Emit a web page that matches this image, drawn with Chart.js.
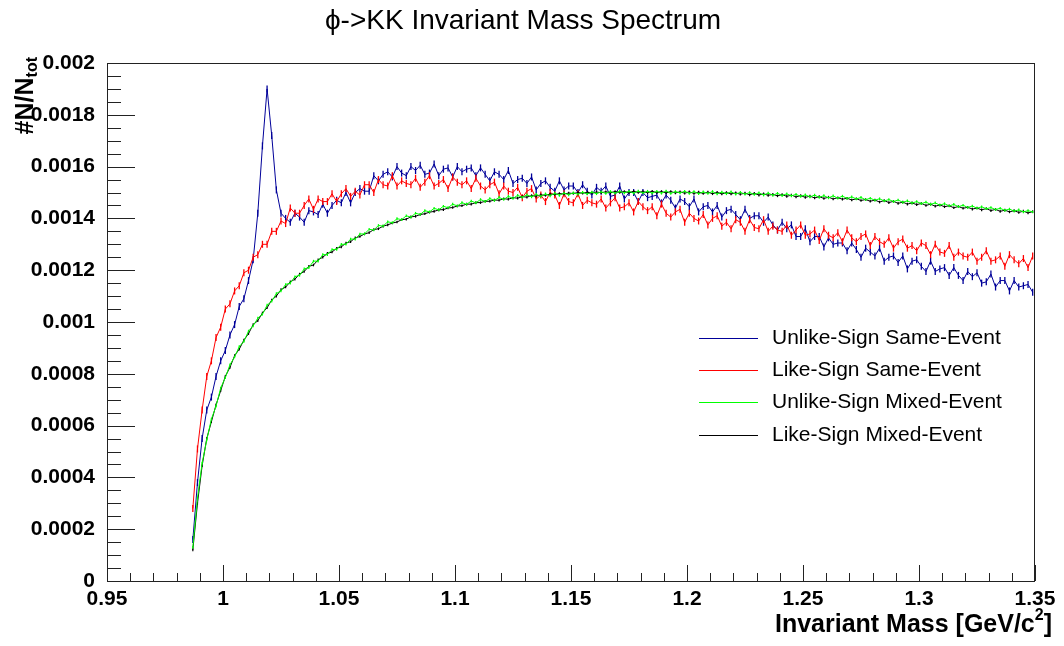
<!DOCTYPE html>
<html>
<head>
<meta charset="utf-8">
<script src="https://cdn.jsdelivr.net/npm/chart.js@4.4.1/dist/chart.umd.min.js"></script>
<style>
  html, body { margin: 0; padding: 0; background: #fff; }
  #wrap { width: 1064px; height: 646px; }
</style>
</head>
<body>
<div id="wrap"><canvas id="chart" width="1064" height="646"></canvas></div>
<script>
// histogram binning: first bin centre and width (GeV/c^2)
const binStart = 0.987
const binWidth = 0.002

const xTicks = [0.95, 1.0, 1.05, 1.1, 1.15, 1.2, 1.25, 1.3, 1.35]
const yTicks = [0, 0.0002, 0.0004, 0.0006, 0.0008, 0.001, 0.0012, 0.0014, 0.0016, 0.0018, 0.002]

const seriesNames = ['Unlike-Sign Same-Event', 'Like-Sign Same-Event', 'Unlike-Sign Mixed-Event', 'Like-Sign Mixed-Event']

// #N/N_tot per bin
const unlikeSame = [
  0.00016, 0.00038, 0.00055, 0.00066, 0.00071, 0.00079, 0.00085, 0.00089, 0.00095, 0.00099,
  0.00106, 0.00109, 0.00116, 0.00124, 0.00142, 0.00168, 0.0019, 0.00172, 0.00151, 0.00142,
  0.0014, 0.001385, 0.00142, 0.001405, 0.001385, 0.00143, 0.001425, 0.001415, 0.001455, 0.00142,
  0.00145, 0.00147, 0.00146, 0.0015, 0.00146, 0.0015, 0.001515, 0.001505, 0.001505, 0.001565,
  0.001545, 0.00157, 0.00158, 0.00156, 0.0016, 0.001575, 0.001565, 0.0016, 0.001585, 0.001605,
  0.00157, 0.001575, 0.00161, 0.001565, 0.00159, 0.001595, 0.00156, 0.0016, 0.00158, 0.00159,
  0.001595, 0.001565, 0.001595, 0.00157, 0.001545, 0.00158, 0.00157, 0.00155, 0.001585, 0.001535,
  0.00155, 0.001555, 0.001535, 0.00156, 0.00151, 0.001535, 0.001545, 0.00152, 0.001505, 0.001545,
  0.00151, 0.001525, 0.001525, 0.0015, 0.00153, 0.001505, 0.00149, 0.00152, 0.001505, 0.001525,
  0.001485, 0.00149, 0.001525, 0.001475, 0.0015, 0.0015, 0.001465, 0.0015, 0.00148, 0.001485,
  0.00149, 0.00146, 0.00149, 0.00147, 0.00144, 0.001475, 0.001465, 0.001445, 0.001475, 0.001425,
  0.001445, 0.00145, 0.001425, 0.00145, 0.001405, 0.00143, 0.001435, 0.001415, 0.001395, 0.001435,
  0.0014, 0.00141, 0.00141, 0.001385, 0.001405, 0.001375, 0.001355, 0.001385, 0.00136, 0.001375,
  0.00133, 0.00133, 0.00136, 0.00131, 0.00133, 0.00133, 0.00129, 0.001325, 0.0013, 0.001305,
  0.001305, 0.001275, 0.001305, 0.00128, 0.00125, 0.001285, 0.00127, 0.001255, 0.001285, 0.001235,
  0.00125, 0.001255, 0.00123, 0.001255, 0.001205, 0.001235, 0.00124, 0.001215, 0.001195, 0.001235,
  0.001195, 0.001205, 0.00121, 0.00118, 0.00121, 0.00118, 0.00116, 0.001195, 0.001175, 0.00119,
  0.00115, 0.001155, 0.001185, 0.001135, 0.00116, 0.00116, 0.00112, 0.00116, 0.001135, 0.00114,
  0.001145, 0.001115
]

const likeSame = [
  0.00028, 0.00051, 0.00066, 0.00079, 0.00085, 0.00094, 0.00098, 0.00105, 0.00107, 0.00112,
  0.00114, 0.00119, 0.0012, 0.00125, 0.00126, 0.0013, 0.0013, 0.00135, 0.00135, 0.00139,
  0.00138, 0.00144, 0.00142, 0.00142, 0.00145, 0.001475, 0.001435, 0.001475, 0.001465, 0.001465,
  0.001495, 0.001465, 0.001495, 0.001515, 0.001485, 0.001505, 0.00149, 0.00153, 0.00153, 0.0015,
  0.00155, 0.00153, 0.001525, 0.001565, 0.001525, 0.001545, 0.001535, 0.00153, 0.001555, 0.00152,
  0.00154, 0.001565, 0.001525, 0.001535, 0.00155, 0.001515, 0.00156, 0.00154, 0.00153, 0.001545,
  0.001515, 0.001555, 0.001525, 0.00151, 0.00153, 0.00154, 0.001495, 0.001525, 0.001505, 0.0015,
  0.00152, 0.00148, 0.001505, 0.001515, 0.001475, 0.00149, 0.001465, 0.0015, 0.00149, 0.00145,
  0.001495, 0.001465, 0.00146, 0.001495, 0.00145, 0.00147, 0.00146, 0.001455, 0.001475, 0.00144,
  0.00146, 0.00148, 0.00144, 0.001445, 0.00146, 0.001425, 0.001465, 0.001445, 0.00143, 0.001445,
  0.00141, 0.001455, 0.00142, 0.001405, 0.001425, 0.001435, 0.001385, 0.00142, 0.0014, 0.00139,
  0.001415, 0.001375, 0.0014, 0.00141, 0.00137, 0.001385, 0.00136, 0.001395, 0.001385, 0.00135,
  0.001395, 0.001365, 0.00136, 0.001395, 0.00135, 0.00137, 0.001355, 0.00135, 0.001375, 0.001335,
  0.001355, 0.001375, 0.001335, 0.00134, 0.001355, 0.001315, 0.00136, 0.001335, 0.001325, 0.001345,
  0.00131, 0.001355, 0.001325, 0.00131, 0.00133, 0.00134, 0.001295, 0.00133, 0.00131, 0.0013,
  0.001325, 0.001285, 0.00131, 0.00132, 0.001285, 0.001295, 0.001275, 0.001305, 0.001295, 0.00126,
  0.0013, 0.00127, 0.001265, 0.001295, 0.00125, 0.00127, 0.001255, 0.00125, 0.00127, 0.001235,
  0.00125, 0.001275, 0.001235, 0.00124, 0.001255, 0.001215, 0.00126, 0.00124, 0.001225, 0.001245,
  0.00121, 0.001255
]

const unlikeMixed = [
  0.00013, 0.00032, 0.000455, 0.000545, 0.000625, 0.000675, 0.000745, 0.000785, 0.000835, 0.000865,
  0.000905, 0.000925, 0.000965, 0.000985, 0.001015, 0.00103, 0.001065, 0.00108, 0.00111, 0.00112,
  0.001145, 0.00115, 0.001175, 0.00118, 0.001205, 0.00121, 0.001235, 0.001235, 0.00126, 0.00126,
  0.00128, 0.00128, 0.0013, 0.0013, 0.00132, 0.00132, 0.00134, 0.00134, 0.001358, 0.001355,
  0.001373, 0.00137, 0.001387, 0.001383, 0.001399, 0.001395, 0.00141, 0.001405, 0.00142, 0.001415,
  0.00143, 0.001425, 0.001439, 0.001433, 0.001447, 0.001441, 0.001455, 0.001448, 0.001461, 0.001454,
  0.001467, 0.00146, 0.001473, 0.001465, 0.001477, 0.001469, 0.001481, 0.001473, 0.001485, 0.001477,
  0.001489, 0.001481, 0.001491, 0.001483, 0.001493, 0.001485, 0.001495, 0.001487, 0.001497, 0.001489,
  0.001498, 0.001491, 0.001499, 0.001493, 0.001501, 0.001494, 0.001502, 0.001495, 0.001503, 0.001496,
  0.001504, 0.001497, 0.001505, 0.001498, 0.001505, 0.001497, 0.001506, 0.001498, 0.001505, 0.001497,
  0.001505, 0.001497, 0.001506, 0.001496, 0.001504, 0.001498, 0.001505, 0.001496, 0.001504, 0.001495,
  0.001503, 0.001496, 0.001504, 0.001494, 0.001502, 0.001495, 0.001503, 0.001493, 0.001501, 0.001493,
  0.0015, 0.001492, 0.001499, 0.00149, 0.001498, 0.001489, 0.001497, 0.001488, 0.001495, 0.001487,
  0.001493, 0.001485, 0.001491, 0.001483, 0.00149, 0.001481, 0.001488, 0.001479, 0.001487, 0.001478,
  0.001486, 0.001477, 0.001483, 0.001475, 0.001481, 0.001472, 0.001478, 0.00147, 0.001476, 0.001467,
  0.001473, 0.001465, 0.001471, 0.001462, 0.001468, 0.001459, 0.001465, 0.001457, 0.001463, 0.001454,
  0.00146, 0.001451, 0.001457, 0.001448, 0.001454, 0.001445, 0.001451, 0.001442, 0.001448, 0.001439,
  0.001445, 0.001437, 0.001442, 0.001434, 0.001439, 0.001431, 0.001436, 0.001428, 0.001433, 0.001425,
  0.00143, 0.001425
]

const likeMixed = [
  0.00012, 0.0003, 0.000445, 0.00055, 0.000615, 0.00068, 0.000735, 0.00079, 0.000825, 0.00087,
  0.000895, 0.00093, 0.000955, 0.00099, 0.001005, 0.001035, 0.001055, 0.001085, 0.0011, 0.001125,
  0.001135, 0.001155, 0.001165, 0.001185, 0.001195, 0.001215, 0.00122, 0.00124, 0.00125, 0.001265,
  0.00127, 0.001285, 0.00129, 0.001305, 0.00131, 0.001325, 0.00133, 0.00134, 0.001345, 0.001357,
  0.00136, 0.00137, 0.001375, 0.001382, 0.001386, 0.001395, 0.001397, 0.001406, 0.001408, 0.001415,
  0.001418, 0.001424, 0.001427, 0.001433, 0.001434, 0.00144, 0.001442, 0.001448, 0.001449, 0.001455,
  0.001455, 0.001461, 0.001461, 0.001466, 0.001466, 0.001471, 0.00147, 0.001476, 0.001474, 0.00148,
  0.001478, 0.001484, 0.001482, 0.001488, 0.001486, 0.001491, 0.001489, 0.001494, 0.001492, 0.001496,
  0.001494, 0.001498, 0.001496, 0.0015, 0.001497, 0.001501, 0.001498, 0.001502, 0.001499, 0.001503,
  0.001499, 0.001504, 0.0015, 0.001504, 0.001499, 0.001505, 0.0015, 0.001504, 0.001499, 0.001505,
  0.001499, 0.001504, 0.001498, 0.001504, 0.001498, 0.001503, 0.001497, 0.001503, 0.001496, 0.001502,
  0.001496, 0.001502, 0.001495, 0.001501, 0.001494, 0.0015, 0.001494, 0.001499, 0.001493, 0.001498,
  0.001491, 0.001497, 0.00149, 0.001495, 0.001489, 0.001493, 0.001487, 0.001492, 0.001485, 0.00149,
  0.001483, 0.001488, 0.001481, 0.001486, 0.001479, 0.001484, 0.001477, 0.001482, 0.001475, 0.00148,
  0.001474, 0.001478, 0.001471, 0.001476, 0.001469, 0.001473, 0.001466, 0.001471, 0.001463, 0.001469,
  0.001461, 0.001466, 0.001458, 0.001463, 0.001455, 0.00146, 0.001453, 0.001458, 0.00145, 0.001455,
  0.001447, 0.001452, 0.001445, 0.001449, 0.001441, 0.001446, 0.001439, 0.001443, 0.001436, 0.00144,
  0.001433, 0.001438, 0.00143, 0.001435, 0.001427, 0.001432, 0.001425, 0.00143, 0.001423, 0.001428,
  0.001421, 0.001426
]

const colors = ['#000099', '#ff0000', '#00ff00', '#000000']

function toPoints(values) {
  return values.map((v, i) => ({ x: +(binStart + i * binWidth).toFixed(3), y: v }))
}

function histo(label, values, color, order, bar, barWidth) {
  return {
    label,
    data: toPoints(values),
    borderColor: color,
    backgroundColor: color,
    borderWidth: 1,
    pointStyle: 'line',
    rotation: 90,
    pointRadius: bar,
    pointBorderWidth: barWidth,
    pointBorderColor: color,
    pointHoverRadius: 0,
    tension: 0,
    fill: false,
    order,
  }
}

const font = '"Liberation Sans", Arial, Helvetica, sans-serif'

const decorations = {
  id: 'decorations',
  afterDraw(chart) {
    const { ctx, chartArea: a, scales } = chart
    const x = scales.x
    const y = scales.y
    ctx.save()

    // frame
    ctx.strokeStyle = '#222'
    ctx.lineWidth = 1
    ctx.strokeRect(Math.round(a.left) + 0.5, Math.round(a.top) + 0.5, Math.round(a.right - a.left) - 1, Math.round(a.bottom - a.top))

    // inward ticks, ROOT style
    ctx.beginPath()
    for (let i = 0; i <= 40; i++) {
      const py = Math.round(y.getPixelForValue(i * 0.00005)) + 0.5
      const len = i % 4 === 0 ? 28 : 14
      ctx.moveTo(a.left, py)
      ctx.lineTo(a.left + len, py)
    }
    for (let i = 0; i <= 40; i++) {
      const px = Math.round(x.getPixelForValue(0.95 + i * 0.01)) + 0.5
      const len = i % 5 === 0 ? 16 : 8
      ctx.moveTo(px, a.bottom)
      ctx.lineTo(px, a.bottom - len)
    }
    ctx.stroke()

    ctx.fillStyle = '#000'

    // title
    ctx.font = '28px ' + font
    ctx.textAlign = 'center'
    ctx.textBaseline = 'middle'
    ctx.fillText('\u03D5->KK Invariant Mass Spectrum', 523, 21)

    // x axis title, right aligned with superscript
    ctx.textBaseline = 'alphabetic'
    ctx.textAlign = 'left'
    const big = 'bold 25px ' + font
    const small = 'bold 16px ' + font
    ctx.font = big
    const w1 = ctx.measureText('Invariant Mass [GeV/c').width
    const w3 = ctx.measureText(']').width
    ctx.font = small
    const w2 = ctx.measureText('2').width
    const x0 = 1052 - (w1 + w2 + w3)
    ctx.font = big
    ctx.fillText('Invariant Mass [GeV/c', x0, 632)
    ctx.font = small
    ctx.fillText('2', x0 + w1, 620)
    ctx.font = big
    ctx.fillText(']', x0 + w1 + w2, 632)

    // y axis title with subscript
    ctx.save()
    ctx.translate(33, 57)
    ctx.rotate(-Math.PI / 2)
    ctx.font = big
    const m1 = ctx.measureText('#N/N').width
    ctx.font = small
    const m2 = ctx.measureText('tot').width
    ctx.font = big
    ctx.fillText('#N/N', -(m1 + m2), 0)
    ctx.font = small
    ctx.fillText('tot', -m2, 4)
    ctx.restore()

    // legend
    const rows = [338, 370, 402, 435]
    ctx.font = '21px ' + font
    ctx.textBaseline = 'middle'
    seriesNames.forEach((name, i) => {
      ctx.strokeStyle = colors[i]
      ctx.beginPath()
      ctx.moveTo(699, rows[i] + 0.5)
      ctx.lineTo(758, rows[i] + 0.5)
      ctx.stroke()
      ctx.fillStyle = '#000'
      ctx.fillText(name, 772, rows[i])
    })

    ctx.restore()
  },
}

const ctx = document.getElementById('chart').getContext('2d')
new Chart(ctx, {
  type: 'line',
  data: {
    datasets: [
      histo(seriesNames[0], unlikeSame, colors[0], 3, 3.5, 1.3),
      histo(seriesNames[1], likeSame, colors[1], 2, 3.5, 1.3),
      histo(seriesNames[2], unlikeMixed, colors[2], 0, 1.3, 1.2),
      histo(seriesNames[3], likeMixed, colors[3], 1, 1.3, 1.2),
    ],
  },
  options: {
    responsive: false,
    animation: false,
    events: [],
    layout: { padding: { top: 63, right: 29, left: 0, bottom: 0 } },
    plugins: {
      legend: { display: false },
      title: { display: false },
      tooltip: { enabled: false },
    },
    scales: {
      x: {
        type: 'linear',
        min: 0.95,
        max: 1.35,
        afterBuildTicks: (s) => { s.ticks = xTicks.map((v) => ({ value: v })) },
        afterFit: (s) => { s.height = 65 },
        grid: { display: false, drawTicks: false },
        border: { display: false },
        ticks: {
          autoSkip: false,
          maxRotation: 0,
          minRotation: 0,
          padding: 6,
          color: '#000',
          font: { family: font, size: 21, weight: 'bold' },
          callback: (v) => String(Number(v.toFixed(2))),
        },
      },
      y: {
        min: 0,
        max: 0.002,
        afterBuildTicks: (s) => { s.ticks = yTicks.map((v) => ({ value: v })) },
        afterFit: (s) => { s.width = 107 },
        grid: { display: false, drawTicks: false },
        border: { display: false },
        ticks: {
          autoSkip: false,
          padding: 12,
          color: '#000',
          font: { family: font, size: 21, weight: 'bold' },
          callback: (v) => String(Number(v.toFixed(4))),
        },
      },
    },
  },
  plugins: [decorations],
})
</script>
</body>
</html>
